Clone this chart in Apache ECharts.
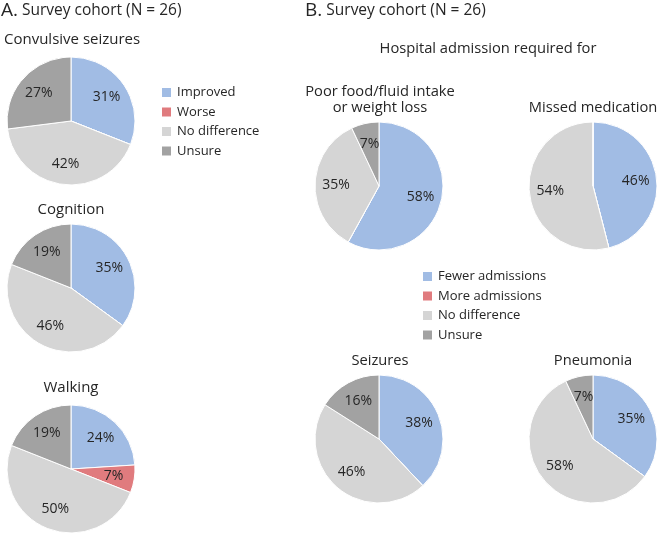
<!DOCTYPE html>
<html>
<head>
<meta charset="utf-8">
<script src="https://cdn.jsdelivr.net/npm/echarts@6/dist/echarts.min.js"></script>
<style>html,body{margin:0;padding:0;background:#fff}#c{width:658px;height:535px}</style>
</head>
<body>
<div id="c"></div>
<script>
// ---- Data ----
var catsA = ['Improved', 'Worse', 'No difference', 'Unsure'];
var convulsive = [31, 0, 42, 27];
var cognition = [35, 0, 46, 19];
var walking = [24, 7, 50, 19];

var catsB = ['Fewer admissions', 'More admissions', 'No difference', 'Unsure'];
var poorFood = [58, 0, 35, 7];
var missedMed = [46, 0, 54, 0];
var seizures = [38, 0, 46, 16];
var pneumonia = [35, 0, 58, 7];

var colors = ['#A1BCE4', '#E07B7E', '#D5D5D5', '#A2A2A2'];
var FONT = '"Open Sans", "Noto Sans", sans-serif';
var TXT = '#262626';
var R = 64;

function mk(cats, vals) {
  return cats.map(function (n, i) { return { name: n, value: vals[i], itemStyle: { color: colors[i] } }; });
}

var pies = [
  { cats: catsA, vals: convulsive, c: [71, 121] },
  { cats: catsA, vals: cognition, c: [71, 288] },
  { cats: catsA, vals: walking, c: [71, 469] },
  { cats: catsB, vals: poorFood, c: [379, 186] },
  { cats: catsB, vals: missedMed, c: [593, 186] },
  { cats: catsB, vals: seizures, c: [379, 439] },
  { cats: catsB, vals: pneumonia, c: [593, 439] }
];

var series = [];
pies.forEach(function (p) {
  series.push({
    type: 'pie', center: p.c, radius: [0, R], startAngle: 90, clockwise: true,
    data: mk(p.cats, p.vals),
    itemStyle: { borderColor: '#fff', borderWidth: 1 },
    label: { show: false }, labelLine: { show: false },
    emphasis: { scale: false }
  });
});
pies.forEach(function (p) {
  series.push({
    type: 'pie', center: p.c, radius: [0, R * 1.25], startAngle: 90, clockwise: true,
    silent: true, legendHoverLink: false,
    data: mk(p.cats, p.vals).map(function (d) { d.itemStyle = { color: 'rgba(0,0,0,0)' }; return d; }),
    itemStyle: { borderWidth: 0 },
    label: {
      show: true, position: 'inside', color: TXT, fontSize: 14, fontFamily: FONT,
      formatter: function (q) { return q.value > 0 ? q.value + '%' : ''; }
    },
    labelLine: { show: false },
    emphasis: { disabled: true }, z: 3
  });
});

function t(text, left, top, align, size) {
  return { text: text, left: left, top: top, textAlign: align || 'left', padding: 0,
    textStyle: { fontFamily: FONT, fontSize: size || 14, fontWeight: 'normal', color: TXT, lineHeight: 16 } };
}

function head(letter, left) {
  return { text: '{a|' + letter + '}{b| Survey cohort (N = 26)}', left: left, top: 1, padding: 0,
    textStyle: { fontWeight: 'normal', rich: {
      a: { fontSize: 19, fontFamily: FONT, color: TXT, fontWeight: 'normal' },
      b: { fontSize: 15.5, fontFamily: FONT, color: TXT, fontWeight: 'normal' } } } };
}

var titles = [
  head('A.', 1),
  head('B.', 305),
  t('Convulsive seizures', 4, 32, 'left', 15),
  t('Cognition', 71, 202, 'center', 15),
  t('Walking', 71, 380, 'center', 15),
  t('Hospital admission required for', 488, 41, 'center', 14.7),
  t('Poor food/fluid intake\nor weight loss', 380, 84, 'center', 14.7),
  t('Missed medication', 593, 100, 'center', 14.7),
  t('Seizures', 380, 353, 'center', 14.7),
  t('Pneumonia', 593, 353, 'center', 14.7)
];

function legend(data, left, top) {
  return { orient: 'vertical', left: left, top: top, data: data, padding: 0,
    itemWidth: 11, itemHeight: 11, itemGap: 6.5, icon: 'rect', selectedMode: true,
    textStyle: { fontFamily: FONT, fontSize: 13, color: TXT } };
}

var chart = echarts.init(document.getElementById('c'), null, { renderer: 'canvas' });
chart.setOption({
  backgroundColor: '#fff',
  animation: false,
  title: titles,
  legend: [legend(catsA, 160, 86), legend(catsB, 421, 270)],
  series: series
});
</script>
</body>
</html>
